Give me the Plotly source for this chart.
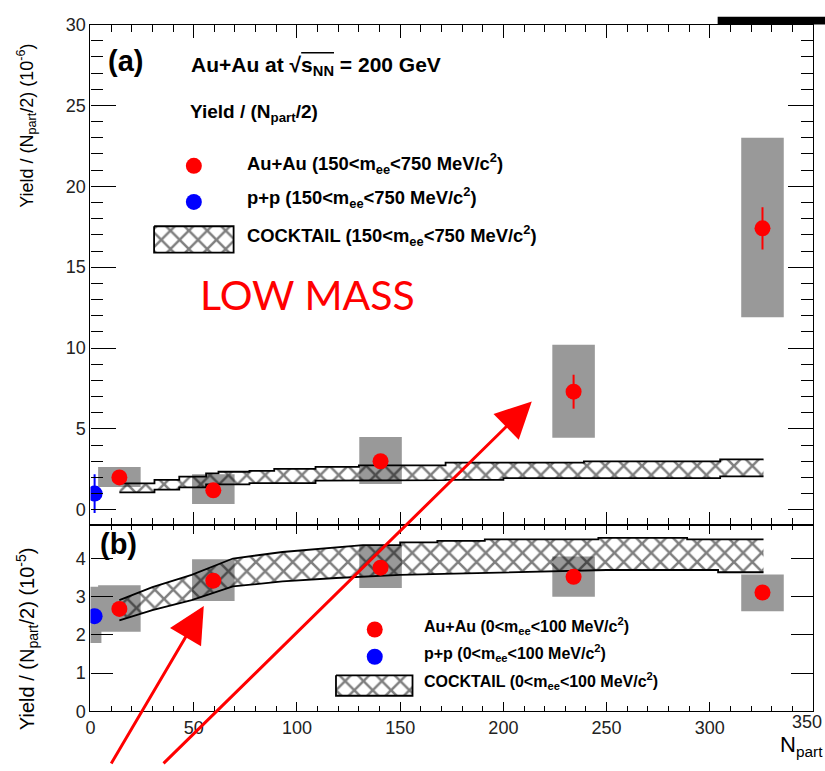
import plotly.graph_objects as go

# ---------------- data ----------------
# panel (a): 150 < m_ee < 750 MeV/c^2, yield/(Npart/2) in 1e-6
npart_auau = [14, 59.5, 140.5, 234, 325.5]
low_auau = [2.0, 1.2, 3.0, 7.3, 17.4]
low_auau_stat = [0.35, 0.35, 0.4, 1.05, 1.3]
low_auau_sys_lo = [1.4, 0.35, 1.6, 4.45, 11.9]
low_auau_sys_hi = [2.65, 2.2, 4.5, 10.2, 23.0]

npart_pp = [2]
low_pp = [1.0]
low_pp_stat = [1.2]

# cocktail band (a): histogram bin edges with lower / upper values
ck_low_edges = [14, 31, 43, 56, 62, 77, 89, 109, 130, 172, 200, 239, 305, 326]
ck_low_hi = [1.63, 1.85, 2.05, 2.25, 2.35, 2.4, 2.53, 2.65, 2.75, 2.91, 2.91, 2.99, 3.11]
ck_low_lo = [1.08, 1.25, 1.38, 1.57, 1.57, 1.65, 1.65, 1.8, 1.83, 1.85, 1.95, 1.95, 2.07]

# panel (b): 0 < m_ee < 100 MeV/c^2, yield/(Npart/2) in 1e-5
vlow_auau = [2.68, 3.42, 3.76, 3.52, 3.11]
vlow_auau_stat = [0.1, 0.1, 0.1, 0.1, 0.1]
vlow_auau_sys_lo = [2.08, 2.89, 3.23, 3.0, 2.62]
vlow_auau_sys_hi = [3.3, 3.98, 4.36, 4.05, 3.58]

vlow_pp = [2.49]
vlow_pp_stat = [0.1]
vlow_pp_sys_lo = [1.79]
vlow_pp_sys_hi = [3.26]

# cocktail band (b): upper / lower edges
ck_vlow_hi_x = [14, 30, 49, 69, 93, 119, 132, 150, 150, 168, 168, 191, 191, 246, 246, 289, 289, 326]
ck_vlow_hi_y = [2.91, 3.25, 3.57, 4.0, 4.17, 4.29, 4.35, 4.35, 4.42, 4.42, 4.46, 4.46, 4.5, 4.5, 4.54, 4.54, 4.5, 4.5]
ck_vlow_lo_x = [14, 30, 49, 69, 93, 119, 150, 180, 250, 304, 304, 326]
ck_vlow_lo_y = [2.38, 2.65, 2.91, 3.27, 3.4, 3.49, 3.57, 3.61, 3.7, 3.7, 3.64, 3.64]

x_ticks = [0, 50, 100, 150, 200, 250, 300, 350]
x_ticktext = ["0", "50", "100", "150", "200", "250", "300", ""]
last_tick_label = "350"

# ---------------- style ----------------
W, H = 825, 771
FONT = "Liberation Sans"
RED = "#ff0000"
BLUE = "#0000ff"
GREY = "#999999"
BOX_HW = 10.3
PP_BOX_HW = 3.3


def px2x(p):
    return p / W


def px2y(p):
    return 1 - p / H


def boxes(xc, lo, hi, hw):
    xs, ys = [], []
    for x, a, b in zip(xc, lo, hi):
        xs += [x - hw, x + hw, x + hw, x - hw, x - hw, None]
        ys += [a, a, b, b, a, None]
    return xs, ys


def step_band(edges, lo, hi):
    ux, uy, lx, ly = [], [], [], []
    for i in range(len(lo)):
        ux += [edges[i], edges[i + 1]]
        uy += [hi[i], hi[i]]
        lx += [edges[i], edges[i + 1]]
        ly += [lo[i], lo[i]]
    return ux, uy, lx, ly


fig = go.Figure()

hatch = dict(shape="x", fgcolor="black", bgcolor="rgba(0,0,0,0)", size=13, solidity=0.35)

# ---- panel (a) ----
bx, by = boxes(npart_auau, low_auau_sys_lo, low_auau_sys_hi, BOX_HW)
fig.add_trace(go.Scatter(x=bx, y=by, fill="toself", fillcolor=GREY, line=dict(width=0),
                         mode="lines", xaxis="x", yaxis="y", hoverinfo="skip"))
ux, uy, lx, ly = step_band(ck_low_edges, ck_low_lo, ck_low_hi)
fig.add_trace(go.Scatter(x=ux + lx[::-1], y=uy + ly[::-1], fill="toself",
                         fillcolor="rgba(0,0,0,0)", fillpattern=hatch,
                         line=dict(width=0), mode="lines", xaxis="x", yaxis="y"))
fig.add_trace(go.Scatter(x=ux, y=uy, mode="lines", line=dict(color="black", width=1.8),
                         xaxis="x", yaxis="y"))
fig.add_trace(go.Scatter(x=lx, y=ly, mode="lines", line=dict(color="black", width=1.8),
                         xaxis="x", yaxis="y"))
fig.add_trace(go.Scatter(x=npart_auau, y=low_auau, mode="markers",
                         marker=dict(color=RED, size=16),
                         error_y=dict(array=low_auau_stat, color=RED, thickness=2, width=0),
                         xaxis="x", yaxis="y"))
fig.add_trace(go.Scatter(x=npart_pp, y=low_pp, mode="markers",
                         marker=dict(color=BLUE, size=16),
                         error_y=dict(array=low_pp_stat, color=BLUE, thickness=2, width=0),
                         xaxis="x", yaxis="y"))

# ---- panel (b) ----
bx, by = boxes(npart_auau, vlow_auau_sys_lo, vlow_auau_sys_hi, BOX_HW)
px_, py_ = boxes(npart_pp, vlow_pp_sys_lo, vlow_pp_sys_hi, PP_BOX_HW)
fig.add_trace(go.Scatter(x=bx + px_, y=by + py_, fill="toself", fillcolor=GREY, line=dict(width=0),
                         mode="lines", xaxis="x2", yaxis="y2", hoverinfo="skip"))
fig.add_trace(go.Scatter(x=ck_vlow_hi_x + ck_vlow_lo_x[::-1], y=ck_vlow_hi_y + ck_vlow_lo_y[::-1],
                         fill="toself", fillcolor="rgba(0,0,0,0)", fillpattern=hatch,
                         line=dict(width=0), mode="lines", xaxis="x2", yaxis="y2"))
fig.add_trace(go.Scatter(x=ck_vlow_hi_x, y=ck_vlow_hi_y, mode="lines",
                         line=dict(color="black", width=1.8), xaxis="x2", yaxis="y2"))
fig.add_trace(go.Scatter(x=ck_vlow_lo_x, y=ck_vlow_lo_y, mode="lines",
                         line=dict(color="black", width=1.8), xaxis="x2", yaxis="y2"))
fig.add_trace(go.Scatter(x=npart_auau, y=vlow_auau, mode="markers",
                         marker=dict(color=RED, size=16),
                         error_y=dict(array=vlow_auau_stat, color=RED, thickness=2, width=0),
                         xaxis="x2", yaxis="y2"))
fig.add_trace(go.Scatter(x=npart_pp, y=vlow_pp, mode="markers",
                         marker=dict(color=BLUE, size=16),
                         error_y=dict(array=vlow_pp_stat, color=BLUE, thickness=2, width=0),
                         xaxis="x2", yaxis="y2"))

# ---- legend symbols on a pixel overlay ----
fig.add_trace(go.Scatter(x=[190, 372], y=[160, 636], mode="markers",
                         marker=dict(color=RED, size=16), xaxis="x3", yaxis="y3"))
fig.add_trace(go.Scatter(x=[190, 372], y=[197, 664], mode="markers",
                         marker=dict(color=BLUE, size=16), xaxis="x3", yaxis="y3"))
fig.add_trace(go.Scatter(x=[150, 230, 230, 150, 150, None, 333, 410, 410, 333, 333],
                         y=[222, 222, 249, 249, 222, None, 683, 683, 704, 704, 683],
                         fill="toself", fillcolor="white", fillpattern=hatch,
                         line=dict(color="black", width=1.8), mode="lines",
                         xaxis="x3", yaxis="y3"))

xd = [px2x(86), px2x(813)]
tickfont = dict(family=FONT, size=18, color="#222")
common_x = dict(domain=xd, range=[0, 350], tickvals=x_ticks, ticktext=x_ticktext, ticks="inside",
                showline=True, linecolor="black", linewidth=1.2, mirror="ticks", showgrid=False,
                zeroline=False, tickcolor="black", tickwidth=1.2, tickfont=tickfont)

fig.update_layout(
    width=W, height=H, margin=dict(l=0, r=0, t=0, b=0),
    paper_bgcolor="white", plot_bgcolor="rgba(0,0,0,0)", showlegend=False,
    xaxis=dict(common_x, anchor="y", showticklabels=False, ticklen=13,
               minor=dict(ticks="inside", ticklen=7, dtick=10, tickcolor="black", tickwidth=1.2)),
    yaxis=dict(domain=[px2y(529), px2y(15)], range=[-0.96, 30], anchor="x",
               tickvals=[0, 5, 10, 15, 20, 25, 30], ticks="inside", ticklen=25,
               minor=dict(ticks="inside", ticklen=12, dtick=1, tickcolor="black", tickwidth=1.2),
               showline=True, linecolor="black", linewidth=1.2, mirror="ticks",
               showgrid=False, zeroline=False, tickcolor="black", tickwidth=1.2, tickfont=tickfont),
    xaxis2=dict(common_x, anchor="y2", ticklen=9,
                minor=dict(ticks="inside", ticklen=5, dtick=10, tickcolor="black", tickwidth=1.2)),
    yaxis2=dict(domain=[px2y(720), px2y(529)], range=[0, 4.87], anchor="x2",
                tickvals=[0, 1, 2, 3, 4], ticks="inside", ticklen=22,
                showline=True, linecolor="black", linewidth=1.2, mirror="ticks",
                showgrid=False, zeroline=False, tickcolor="black", tickwidth=1.2, tickfont=tickfont),
    xaxis3=dict(domain=[0, 1], range=[0, W], visible=False, anchor="y3", fixedrange=True),
    yaxis3=dict(domain=[0, 1], range=[H, 0], visible=False, anchor="x3", fixedrange=True),
)

A = []


def txt(x, y, t, size, bold=True, color="black", xanchor="left", family=FONT, angle=0):
    A.append(dict(x=x, y=y, xref="x3", yref="y3", text=("<b>%s</b>" % t) if bold else t,
                  showarrow=False, xanchor=xanchor, yanchor="middle", textangle=angle,
                  font=dict(family=family, size=size, color=color)))


txt(121, 52, "(a)", 29, xanchor="center")
txt(185, 57, "Au+Au at √s<sub>NN</sub> = 200 GeV", 21)
txt(184, 106, "Yield / (N<sub>part</sub>/2)", 19)
txt(241, 158, "Au+Au (150&lt;m<sub>ee</sub>&lt;750 MeV/c<sup>2</sup>)", 18.4)
txt(241, 193, "p+p (150&lt;m<sub>ee</sub>&lt;750 MeV/c<sup>2</sup>)", 18.4)
txt(241, 231, "COCKTAIL (150&lt;m<sub>ee</sub>&lt;750 MeV/c<sup>2</sup>)", 18.4)
txt(114, 548, "(b)", 29, xanchor="center")
txt(420, 632, "Au+Au (0&lt;m<sub>ee</sub>&lt;100 MeV/c<sup>2</sup>)", 16)
txt(420, 660, "p+p (0&lt;m<sub>ee</sub>&lt;100 MeV/c<sup>2</sup>)", 16)
txt(420, 689, "COCKTAIL (0&lt;m<sub>ee</sub>&lt;100 MeV/c<sup>2</sup>)", 16)
txt(194, 292, "LOW MASS", 41, bold=False, color=RED, family="Lato")
txt(825, 756, "N<sub>part</sub>", 22, bold=False, xanchor="right")
txt(22, 119, "Yield / (N<sub>part</sub>/2) (10<sup>-6</sup>)", 18, bold=False, xanchor="center", angle=-90)
txt(22, 645, "Yield / (N<sub>part</sub>/2) (10<sup>-5</sup>)", 20, bold=False, xanchor="center", angle=-90)
A.append(dict(x=W - 1, y=731, xref="x3", yref="y3", text=last_tick_label, showarrow=False,
              xanchor="right", yanchor="middle", font=tickfont))

# arrows
for (tx, ty, hx, hy) in [(106, 775, 200, 612), (158, 775, 530, 402)]:
    A.append(dict(x=hx, y=hy, xref="x3", yref="y3", ax=tx, ay=ty, axref="x3", ayref="y3",
                  text="", showarrow=True, arrowhead=2, arrowsize=2.4, arrowwidth=3,
                  arrowcolor=RED))

fig.update_layout(annotations=A)

fig.add_shape(type="rect", xref="paper", yref="paper", x0=px2x(717), x1=1.0,
              y0=px2y(15), y1=px2y(7), fillcolor="black", line=dict(width=0))
fig.add_shape(type="line", xref="paper", yref="paper", x0=px2x(298), x1=px2x(331),
              y0=px2y(44), y1=px2y(44), line=dict(color="black", width=1.5))

fig.write_html("out.html")
